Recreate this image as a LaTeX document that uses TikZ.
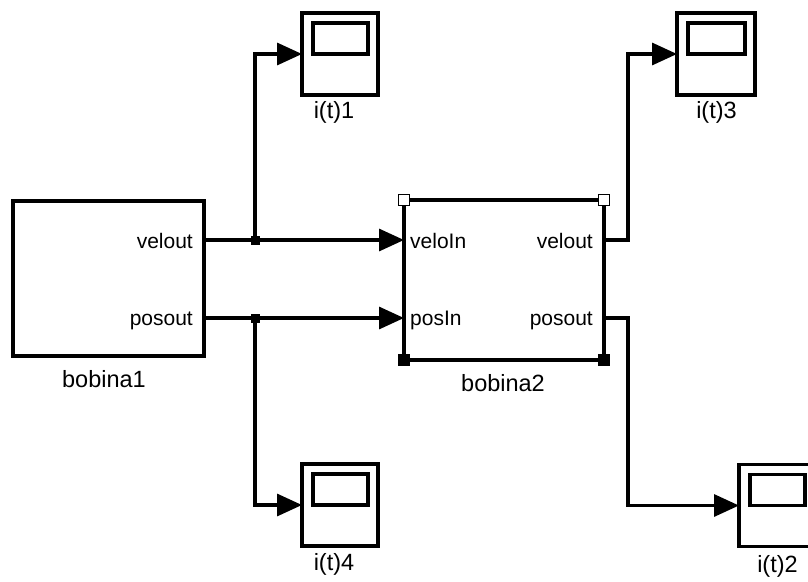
\documentclass[tikz,border=0pt]{standalone}
\usepackage{fontspec}
\setmainfont{Liberation Sans}
\usetikzlibrary{arrows.meta,calc}
\begin{document}
\begin{tikzpicture}[x=1pt,y=-1pt,
  wire/.style={line width=3.3pt, line join=miter},
  sig/.style={wire, -{Triangle[length=25pt,width=22pt]}},
  blockbox/.style={draw, line width=3.3pt, inner sep=0pt, outer sep=0pt},
  scopebox/.style={blockbox, minimum width=76pt, minimum height=82pt},
  portlbl/.style={inner sep=0pt, font=\fontsize{21}{25}\selectfont},
  namelbl/.style={inner sep=0pt, anchor=base, font=\fontsize{23.5}{28}\selectfont},
  junction/.style={fill, inner sep=0pt, minimum size=9pt},
  handle/.style={draw, line width=1.8pt, inner sep=0pt, minimum size=11pt}
]
\useasboundingbox (0,0) rectangle (808,581);
\fill[white] (0,0) rectangle (808,581);
\clip (0,0) rectangle (808,581);

% subsystem blocks
\node[blockbox, minimum width=191pt, minimum height=155pt] (b1) at (108.5,278.5) {};
\node[blockbox, minimum width=200pt, minimum height=160pt] (b2) at (504,280) {};

% selection handles on bobina2
\node[handle, fill=white] (h1) at (b2.north west) {};
\node[handle, fill=white] (h2) at (b2.north east) {};
\node[handle, fill=black] (h3) at (b2.south west) {};
\node[handle, fill=black] (h4) at (b2.south east) {};

% scopes
\node[scopebox] (s1) at (340,54) {};
\node[scopebox, minimum width=78pt] (s3) at (716,54) {};
\node[scopebox] (s4) at (340,505) {};
\node[scopebox] (s2) at (777,505.5) {};
\foreach \s in {s1,s3,s4,s2}
  \draw[line width=3.3pt] ($(\s.north west)+(11,10)$) rectangle ($(\s.north east)+(-10,41)$);

% port labels
\node[portlbl, anchor=base east] (b1vo) at (193,248) {velout};
\node[portlbl, anchor=base east] (b1po) at (193,325) {posout};
\node[portlbl, anchor=base west] (b2vi) at (410,248) {veloIn};
\node[portlbl, anchor=base west] (b2pi) at (410,325) {posIn};
\node[portlbl, anchor=base east] (b2vo) at (593,248) {velout};
\node[portlbl, anchor=base east] (b2po) at (593,325) {posout};

% block names
\node[namelbl] (n1) at (104,387) {bobina1};
\node[namelbl] (n2) at (503,391) {bobina2};
\node[namelbl] (n3) at (334,118) {i(t)1};
\node[namelbl] (n4) at (716.5,118) {i(t)3};
\node[namelbl] (n5) at (334,570) {i(t)4};
\node[namelbl] (n6) at (777.5,572) {i(t)2};

% port coordinates
\coordinate (p1v) at (b1.east |- 0,240);
\coordinate (p1p) at (b1.east |- 0,318);
\coordinate (p2vi) at (b2.west |- 0,240);
\coordinate (p2pi) at (b2.west |- 0,318);
\coordinate (p2v) at (b2.east |- 0,240);
\coordinate (p2p) at (b2.east |- 0,318);
\coordinate (j1) at (255,240);
\coordinate (j2) at (255,318);
\coordinate (k1) at (628,240);
\coordinate (k2) at (628,318);

% signal lines
\draw[sig] (p1v) -- (p2vi);
\draw[sig] (p1p) -- (p2pi);
\draw[sig] (j1) |- (s1.west);
\draw[sig] (j2) |- (s4.west);
\draw[sig] (p2v) -- (k1) |- (s3.west);
\draw[sig] (p2p) -- (k2) |- (s2.west);

% branch points
\node[junction] (d1) at (j1) {};
\node[junction] (d2) at (j2) {};
\end{tikzpicture}
\end{document}
